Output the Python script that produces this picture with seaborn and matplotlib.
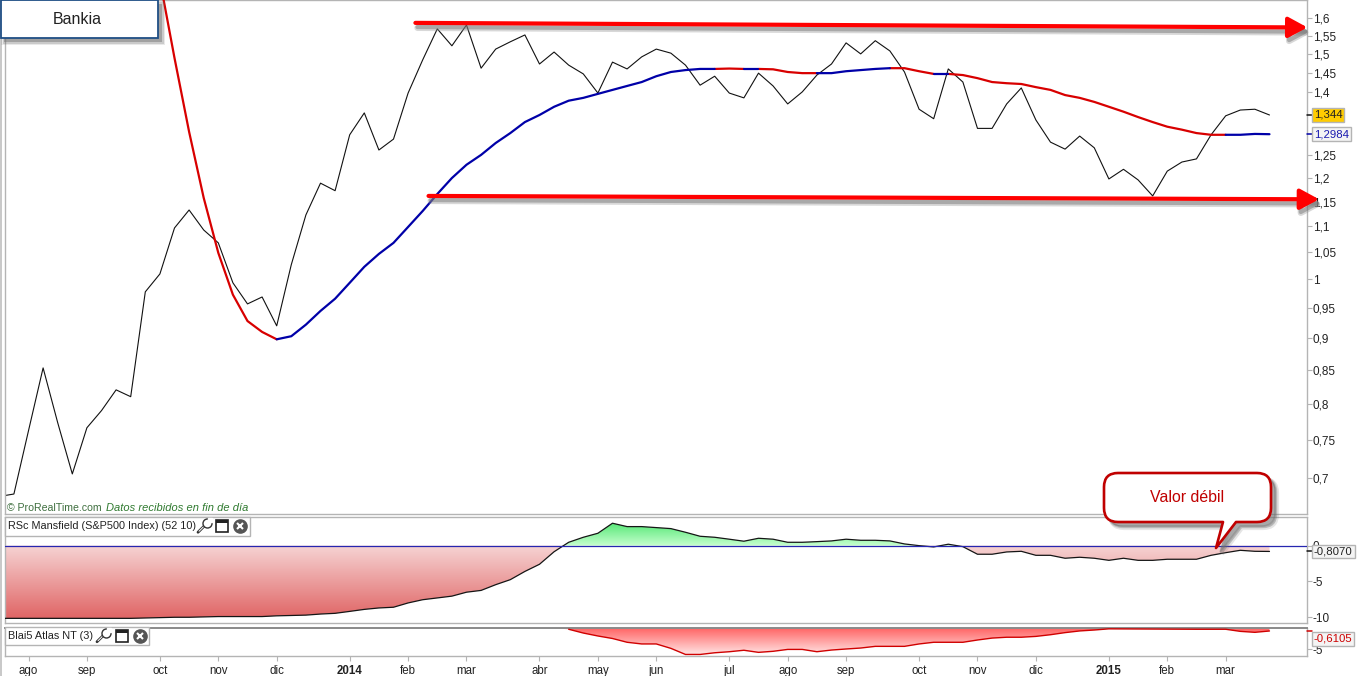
import numpy as np
import pandas as pd
import matplotlib
matplotlib.use("Agg")
import matplotlib.pyplot as plt
import matplotlib.patheffects as pe
from matplotlib.colors import LinearSegmentedColormap
from matplotlib.path import Path
from matplotlib.patches import PathPatch, Rectangle
from matplotlib.lines import Line2D
import seaborn as sns

price = [.677,.680,.762,.853,.773,.705,.766,.790,.820,.810,.978,1.010,1.097,1.133,1.093,1.068,.994,.957,.969,.920,
         1.027,1.123,1.189,1.173,1.297,1.349,1.262,1.287,1.398,1.484,1.569,1.522,1.580,1.462,1.513,1.533,1.552,1.473,
         1.505,1.470,1.447,1.398,1.478,1.460,1.492,1.513,1.502,1.470,1.418,1.441,1.398,1.386,1.449,1.416,1.371,1.401,
         1.444,1.473,1.530,1.500,1.536,1.508,1.452,1.358,1.335,1.460,1.426,1.312,1.312,1.371,1.411,1.332,1.280,1.264,
         1.294,1.267,1.198,1.219,1.196,1.162,1.215,1.235,1.242,1.297,1.342,1.356,1.358,1.344]
average = [np.nan]*11 + [1.713,1.489,1.304,1.158,1.049,.973,.928,.910,.898,.903,.922,.945,.966,.994,1.023,1.047,1.068,
           1.099,1.131,1.166,1.200,1.229,1.251,1.278,1.301,1.327,1.344,1.364,1.379,1.386,1.396,1.406,1.416,1.426,1.441,
           1.452,1.457,1.460,1.460,1.461,1.460,1.460,1.459,1.452,1.449,1.449,1.449,1.454,1.457,1.460,1.462,1.462,1.454,
           1.447,1.447,1.444,1.436,1.426,1.423,1.421,1.413,1.406,1.393,1.386,1.376,1.364,1.352,1.339,1.327,1.316,1.309,
           1.301,1.297,1.297,1.297,1.299,1.2984]
mansfield = [-10.15]*10 + [-10.1,-10.05,-10.0,-10.0,-9.95,-9.9,-9.9,-9.9,-9.9,-9.8,-9.75,-9.7,-9.55,-9.45,-9.18,-8.9,-8.7,
             -8.6,-8.0,-7.55,-7.3,-7.05,-6.5,-6.25,-5.45,-4.75,-3.6,-2.6,-.85,.47,1.17,1.73,3.13,2.66,2.66,2.52,2.38,1.87,
             1.31,1.17,.9,.62,1.03,.9,.47,.47,.56,.66,.9,.75,.75,.66,.24,0,-.18,.2,-.14,-1.2,-1.2,-.88,-.79,-1.35,-1.35,
             -1.76,-1.62,-1.76,-2.05,-1.76,-2.05,-2.05,-1.9,-1.9,-1.9,-1.35,-.98,-.65,-.79,-.807]
atlas = [0]*39 + [-.2,-1.1,-1.8,-2.4,-3.3,-3.7,-3.7,-4.75,-6.2,-6.2,-5.8,-5.55,-5.2,-5.7,-5.45,-5,-5,-5.55,-5.15,-4.9,
         -4.67,-4.27,-4.27,-4.27,-3.7,-3.3,-3.3,-3.3,-2.76,-2.3,-2.1,-2.1,-1.9,-1.5,-1.0,-.6,-.38,-.1,0,0,0,0,0,-.2,-.2,
         -.2,-.7,-.93,-.6105]
weeks = list(range(-1, 87))
rising_runs = [(18, 48), (50, 51), (55, 60), (63, 64), (83, 86)]
falling_runs = [(10, 18), (48, 50), (51, 55), (60, 63), (64, 83)]

month_ticks = [1,5,10,14,18,23,27,31,36,40,44,49,53,57,62,66,70,75,79,83]
month_labels = ["ago","sep","oct","nov","dic","2014","feb","mar","abr","may","jun","jul","ago","sep","oct","nov","dic","2015","feb","mar"]
price_ticks = [1.6,1.55,1.5,1.45,1.4,1.25,1.2,1.15,1.1,1.05,1,.95,.9,.85,.8,.75,.7]
price_labels = ["1,6","1,55","1,5","1,45","1,4","1,25","1,2","1,15","1,1","1,05","1","0,95","0,9","0,85","0,8","0,75","0,7"]

W, H = 1360, 676
sns.set_theme(style="white")
plt.rcParams["font.family"] = ["Liberation Sans", "DejaVu Sans"]
GREY = "#b4b4b4"
df = pd.DataFrame({"week": weeks, "price": price, "average": average, "mansfield": mansfield, "atlas": atlas})

fig = plt.figure(figsize=(W/100, H/100), dpi=100, facecolor="white")
def panel(x0, y0, x1, y1):
    return fig.add_axes([x0/W, 1-y1/H, (x1-x0)/W, (y1-y0)/H], facecolor="white")
def fx(x): return x/W
def fy(y): return 1-y/H

ax = panel(5, 0, 1307, 514)
ax2 = panel(5, 517, 1307, 623)
ax3 = panel(5, 628, 1307, 655.5)
xlim = (-0.61, 88.57)

# ---- main panel
sns.lineplot(data=df, x="week", y="price", color="#111111", lw=0.8, ax=ax, estimator=None)
for runs, col in ((falling_runs, "#d80000"), (rising_runs, "#0000a8")):
    for a, b in runs:
        seg = df[(df.week >= a) & (df.week <= b)]
        sns.lineplot(data=seg, x="week", y="average", color=col, lw=1.6, ax=ax, estimator=None, zorder=3)
ax.set_yscale("log")
ax.set_ylim(0.656, 1.6526)
ax.set_yticks(price_ticks)
ax.set_yticklabels(price_labels)
ax.minorticks_off()
ax.yaxis.set_minor_locator(matplotlib.ticker.NullLocator())
for lab in ax.get_yticklabels():
    if lab.get_text() in ("1,5", "1"):
        lab.set_fontweight("bold"); lab.set_fontsize(9.5); lab.set_color("#000000")

# ---- Mansfield panel
def gradient(axis, path_coll, lo, hi, c_lo, c_hi):
    cmap = LinearSegmentedColormap.from_list("g", [c_lo, c_hi])
    im = axis.imshow(np.linspace(0, 1, 256)[:, None], extent=(xlim[0], xlim[1], lo, hi), origin="lower",
                     cmap=cmap, aspect="auto", interpolation="bilinear", zorder=1)
    im.set_clip_path(Path.make_compound_path(*path_coll.get_paths()), axis.transData)
    path_coll.set_visible(False)

x = np.array(weeks, float)
m = np.array(mansfield)
neg = ax2.fill_between(x, m, 0, where=m <= 0, interpolate=True)
pos = ax2.fill_between(x, m, 0, where=m >= 0, interpolate=True)
gradient(ax2, neg, -10.2, 0, "#e06464", "#f6d4d4")
gradient(ax2, pos, 0, 3.13, "#c6ffce", "#58e878")
sns.lineplot(data=df, x="week", y="mansfield", color="#151515", lw=0.9, ax=ax2, estimator=None, zorder=3)
ax2.axhline(0, color="#2626b0", lw=0.9, zorder=4)
ax2.set_ylim(-10.8, 4.0)
ax2.set_yticks([0, -5, -10])
ax2.set_yticklabels(["0", "-5", "-10"])

# ---- Atlas panel
a = np.array(atlas, float)
fill = ax3.fill_between(x, a, 0)
gradient(ax3, fill, -6.2, 0, "#ffe2e2", "#ff6060")
ax3.plot(x[a < 0], a[a < 0], color="#d00000", lw=1.0, zorder=3)
ax3.set_ylim(-6.45, 0.1)
ax3.set_yticks([-5])
ax3.set_yticklabels(["-5"])
ax3.set_xticks(month_ticks)
ax3.set_xticklabels(month_labels)
for lab in ax3.get_xticklabels():
    if lab.get_text() in ("2014", "2015"):
        lab.set_fontweight("bold"); lab.set_fontsize(10)

for axis in (ax, ax2, ax3):
    axis.set_xlim(*xlim)
    axis.set_xlabel(""); axis.set_ylabel("")
    axis.yaxis.tick_right()
    axis.tick_params(axis="y", length=3.6, width=0.8, color=GREY, pad=0.6, labelsize=8.5, labelcolor="#222222", which="major", right=True, left=False)
    for s in axis.spines.values():
        s.set_color(GREY); s.set_linewidth(1.0); s.set_visible(True)
    if axis is not ax3:
        axis.set_xticks([])
ax3.spines["top"].set_color("#8a8a8a"); ax3.spines["top"].set_linewidth(1.4)
ax3.tick_params(axis="x", length=3.6, width=0.8, color=GREY, pad=3, labelsize=8.3, labelcolor="#222222", bottom=True)

# ---- red trend arrows
def trend(v0, k0, v1, k1):
    ax.annotate("", xy=(k1, v1), xytext=(k0, v0), annotation_clip=False, zorder=6,
                arrowprops=dict(arrowstyle="-|>,head_length=1.15,head_width=0.62", color="#ff0000", lw=3.0,
                                shrinkA=0, shrinkB=0, mutation_scale=10,
                                path_effects=[pe.SimpleLineShadow(offset=(1.5, -3.6), shadow_color="#909090", alpha=0.35, linewidth=4.5),
                                              pe.SimpleLineShadow(offset=(1.5, -3.0), shadow_color="#707070", alpha=0.45, linewidth=3),
                                              pe.Normal()]))
trend(1.586, 27.5, 1.573, 88.6)
trend(1.162, 28.4, 1.155, 89.4)

# ---- value flags
def flag(axis, v, label, tick_col, text_col, face, edge, y_off=0, lenx=0.004):
    axis.plot([1, 1+lenx], [v, v], transform=axis.get_yaxis_transform(), color=tick_col, lw=1.1, clip_on=False, zorder=7, scaley=False)
    axis.annotate(label, xy=(1, v), xycoords=axis.get_yaxis_transform(), xytext=(7, y_off), textcoords="offset pixels",
                  ha="left", va="center", fontsize=8.2, color=text_col, annotation_clip=False, zorder=8,
                  bbox=dict(boxstyle="square,pad=0.16", fc=face, ec=edge, lw=1.0))
flag(ax, 1.344, "1,344", "#111111", "#222222", "#ffcc00", GREY)
flag(ax, 1.2984, "1,2984", "#0000a8", "#1a1ab0", "#f4f4f4", GREY)
flag(ax2, -0.807, "-0,8070", "#111111", "#222222", "#f4f4f4", GREY)
flag(ax3, -0.6105, "-0,6105", "#d00000", "#cc0000", "#f4f4f4", GREY, y_off=-8)

# ---- figure furniture
fig.add_artist(Line2D([fx(1), fx(1)], [fy(0), fy(676)], color="#c8c8c8", lw=1.4, zorder=0))
def shadow_rect(x0, y0, x1, y1, dx=4, dy=4):
    for g, al in ((3, .15), (1.5, .25), (0, .45)):
        fig.add_artist(Rectangle((fx(x0+dx-g), fy(y1+dy+g)), (x1-x0+2*g)/W, (y1-y0+2*g)/H, transform=fig.transFigure,
                                 fc="#707070", ec="none", alpha=al, zorder=9))
shadow_rect(0, 0, 158, 38)
fig.add_artist(Rectangle((fx(0.5), fy(38)), 157.5/W, 38/H, transform=fig.transFigure, fc="white", ec="#1f4e85", lw=1.3, zorder=10))
fig.text(fx(77), fy(19), "Bankia", ha="center", va="center", fontsize=11.5, color="#222222", zorder=11)

fig.text(fx(7), fy(508), "© ProRealTime.com", ha="left", va="center", fontsize=7.6, color="#3f6f3f", zorder=11)
fig.text(fx(106), fy(508), "Datos recibidos en fin de día", ha="left", va="center", fontsize=8.0, style="italic", color="#2f7a2f", zorder=11)

def tag(x1, y0, y1, text, wx, wnx, cx):
    fig.add_artist(Rectangle((fx(5), fy(y1)), (x1-5)/W, (y1-y0)/H, transform=fig.transFigure, fc="white", ec=GREY, lw=1.0, zorder=10))
    ym = (y0+y1)/2
    fig.text(fx(8), fy(ym), text, ha="left", va="center", fontsize=7.85, color="#222222", zorder=11)
    fig.add_artist(Line2D([fx(wx-6), fx(wx+2)], [fy(ym+6), fy(ym-2)], color="#333333", lw=2.0, zorder=11))
    fig.add_artist(Line2D([fx(wx-5), fx(wx+2)], [fy(ym+5), fy(ym-2)], color="white", lw=0.7, zorder=12))
    fig.add_artist(Line2D([fx(wx+3)], [fy(ym-3)], marker="o", ms=6.5, mfc="white", mec="#333333", mew=1.0, ls="none", zorder=12))
    fig.add_artist(Line2D([fx(wx+6)], [fy(ym-6)], marker="s", ms=3.5, color="white", ls="none", zorder=13))
    fig.add_artist(Rectangle((fx(wnx-6), fy(ym+6)), 12/W, 12/H, transform=fig.transFigure, fc="white", ec="#222222", lw=1.2, zorder=11))
    fig.add_artist(Rectangle((fx(wnx-6), fy(ym-3)), 12/W, 3/H, transform=fig.transFigure, fc="#222222", ec="none", zorder=11))
    fig.add_artist(Line2D([fx(cx)], [fy(ym)], marker="o", ms=9.5, color="#555555", ls="none", zorder=11))
    fig.add_artist(Line2D([fx(cx)], [fy(ym)], marker="x", ms=4.6, mew=1.5, color="white", ls="none", zorder=12))
tag(250, 517, 535.5, "RSc Mansfield (S&P500 Index) (52 10)", 204, 222, 240)
tag(149, 627, 644.5, "Blai5 Atlas NT (3)", 103, 122, 140)

# ---- callout
def callout_path():
    x0, x1, y0, y1, r = 1104, 1271, 473, 522, 14
    tip = (1216, 548)
    pts = [(x0+r, y0), (x1-r, y0), (x1, y0), (x1, y0+r), (x1, y1-r), (x1, y1), (x1-r, y1),
           (1236, y1), tip, (1223, y1), (x0+r, y1), (x0, y1), (x0, y1-r), (x0, y0+r), (x0, y0), (x0+r, y0), (x0+r, y0)]
    codes = [Path.MOVETO, Path.LINETO, Path.CURVE3, Path.CURVE3, Path.LINETO, Path.CURVE3, Path.CURVE3,
             Path.LINETO, Path.LINETO, Path.LINETO, Path.LINETO, Path.CURVE3, Path.CURVE3, Path.LINETO, Path.CURVE3, Path.CURVE3, Path.CLOSEPOLY]
    return pts, codes
pts, codes = callout_path()
def as_fig(p, dx=0, dy=0):
    return Path([(fx(a+dx), fy(b+dy)) for a, b in p], codes)
for d, al in ((6, .18), (5, .25), (4, .35)):
    fig.add_artist(PathPatch(as_fig(pts, d, d), transform=fig.transFigure, fc="#707070", ec="#707070", lw=d-3, alpha=al, zorder=13))
fig.add_artist(PathPatch(as_fig(pts), transform=fig.transFigure, fc="white", ec="#c00000", lw=1.9, zorder=14, joinstyle="round"))
fig.text(fx(1187), fy(497), "Valor débil", ha="center", va="center", fontsize=11.4, color="#c00000", zorder=15)

fig.savefig("out.png", dpi=100)
